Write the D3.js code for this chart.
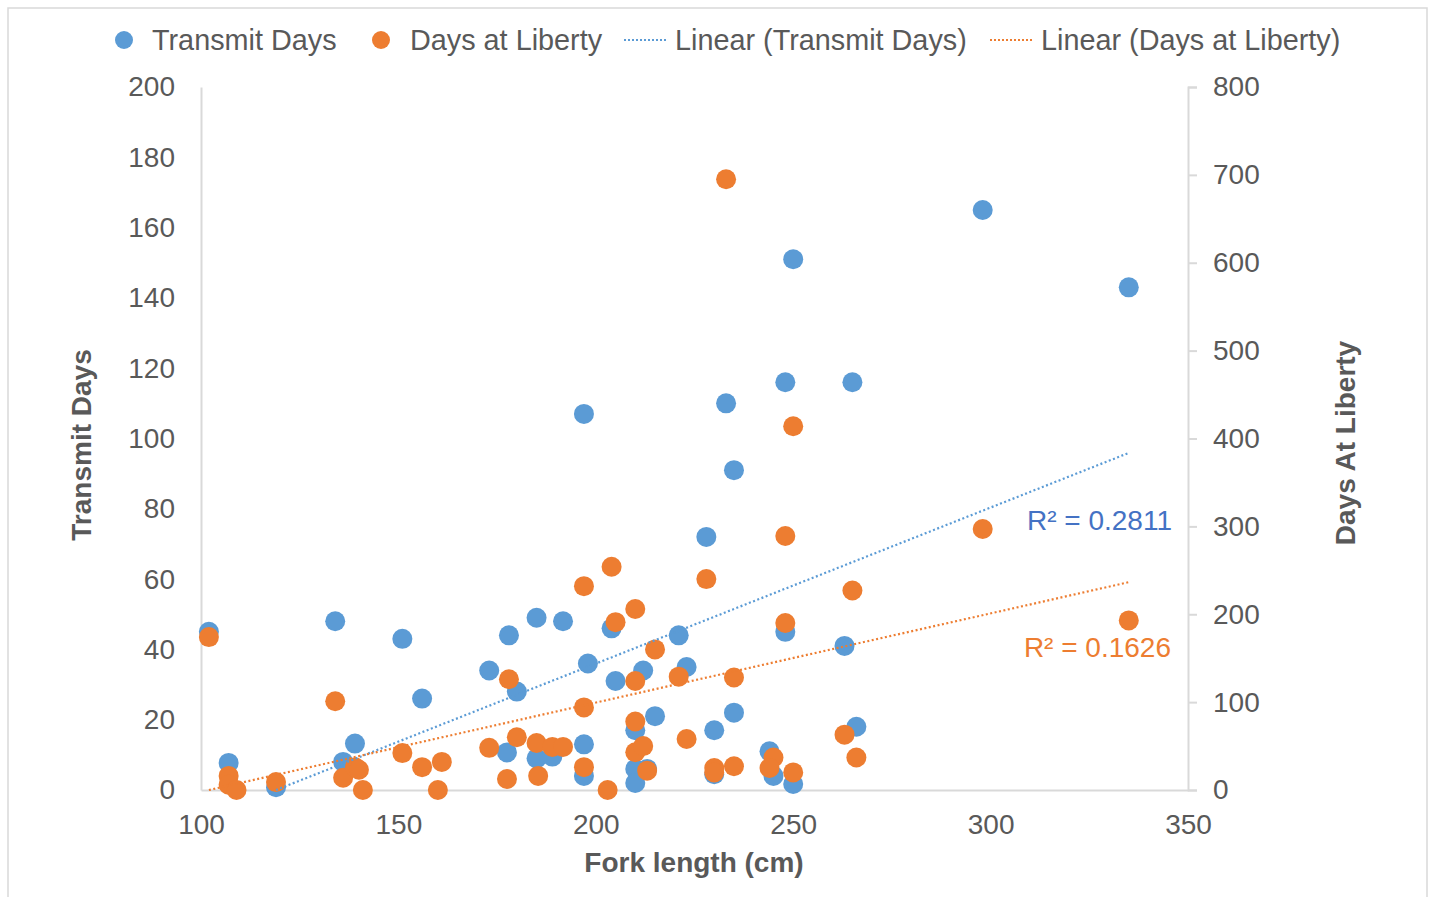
<!DOCTYPE html>
<html>
<head>
<meta charset="utf-8">
<script src="https://cdn.jsdelivr.net/npm/d3@7"></script>
<style>
html,body{margin:0;padding:0;background:#fff;}
svg{display:block;font-family:"Liberation Sans",Arial,sans-serif;}
</style>
</head>
<body>
<svg id="chart" width="1429" height="897"></svg>
<script>
// ---- data ----
const transmitFL   = [102,107,119,134,136,139,151,156,173,178,180,177.5,185,191.7,185,189,197,197,197,198,204,205,210,210,210,212,213,215,221,223,228,230,230,233,235,235,244,245,248,248,250,250,263,265,266,298,335];
const transmitDays = [45,7.7,0.8,48,8,13.2,43,26,34,44,28,10.7,49,48,9,9.5,13,4,107,36,46,31,17,6,2,34,6,21,44,35,72,17,4.5,110,22,91,11,4,45,116,151,1.7,41,116,18,165,143];
const libertyFL    = [102,107,107,109,119,134,136,139,140,141,151,156,160,161,173,178,177.5,180,185,185.4,189,191.7,197,197,197,203,204,205,210,210,210,210,212,213,215,221,223,228,230,230,233,235,235,245,244,248,248,250,250,263,265,266,298,335];
const libertyDays  = [174,16,6,0,9,101,14,26,23,0,42,26,0,32,48,126,12.5,60,53.5,16,49,49,232,94,26,0,254,191,206,124,78,43,50,22,160,129,58,240,25,20,695,128,27,37,25,289,190,414,20,63,227,37,297,193];
const trendTransmitX = [119,335], trendTransmitY = [0,95.9];
const trendLibertyX  = [102,335], trendLibertyY  = [0,236.5];
const xTicks = [100,150,200,250,300,350];
const leftTicks = [0,20,40,60,80,100,120,140,160,180,200];
const rightTicks = [0,100,200,300,400,500,600,700,800];
const r2Labels = ["R² = 0.2811","R² = 0.1626"];
const legendLabels = ["Transmit Days","Days at Liberty","Linear (Transmit Days)","Linear (Days at Liberty)"];

// ---- layout ----
const svg = d3.select("#chart");
const L=201, R=1188, T=87, B=790;
const blue="#5B9BD5", orange="#ED7D31", grey="#595959", axisC="#D9D9D9";
const x = d3.scaleLinear().domain([100,350]).range([L,R]);
const yL = d3.scaleLinear().domain([0,200]).range([B,T]);
const yR = d3.scaleLinear().domain([0,800]).range([B,T]);

// frame
svg.append("rect").attr("x",8).attr("y",8).attr("width",1419).attr("height",900)
  .attr("fill","none").attr("stroke","#D9D9D9").attr("stroke-width",1.5);

// axes
const gx = svg.append("g").attr("transform",`translate(0,${B})`)
  .call(d3.axisBottom(x).tickValues(xTicks).tickSize(0).tickPadding(24));
const gl = svg.append("g").attr("transform",`translate(${L},0)`)
  .call(d3.axisLeft(yL).tickValues(leftTicks).tickSize(0).tickPadding(26));
const gr = svg.append("g").attr("transform",`translate(${R},0)`)
  .call(d3.axisRight(yR).tickValues(rightTicks).tickSize(9).tickPadding(16));
[gx,gl,gr].forEach(g=>{
  g.select(".domain").attr("stroke",axisC).attr("stroke-width",2);
  g.selectAll(".tick line").attr("stroke",axisC).attr("stroke-width",2);
  g.selectAll(".tick text").attr("fill",grey).style("font-size","28px").style("font-family","'Liberation Sans',Arial,sans-serif");
});

// points
svg.append("g").selectAll("circle").data(transmitFL).join("circle")
  .attr("cx",(d)=>x(d)).attr("cy",(d,i)=>yL(transmitDays[i])).attr("r",10).attr("fill",blue);
svg.append("g").selectAll("circle").data(libertyFL).join("circle")
  .attr("cx",(d)=>x(d)).attr("cy",(d,i)=>yR(libertyDays[i])).attr("r",10).attr("fill",orange);

// trendlines
const line = (xs,ys,ys_scale)=>d3.line()(xs.map((v,i)=>[x(v),ys_scale(ys[i])]));
svg.append("path").attr("d",line(trendTransmitX,trendTransmitY,yL))
  .attr("stroke",blue).attr("stroke-width",2.2).attr("stroke-dasharray","2,2.5").attr("fill","none");
svg.append("path").attr("d",line(trendLibertyX,trendLibertyY,yR))
  .attr("stroke",orange).attr("stroke-width",2.2).attr("stroke-dasharray","2,2.5").attr("fill","none");

// R² labels
svg.append("text").attr("x",1172).attr("y",530).attr("text-anchor","end")
  .attr("fill","#4472C4").style("font-size","28px").text(r2Labels[0]);
svg.append("text").attr("x",1171).attr("y",657).attr("text-anchor","end")
  .attr("fill",orange).style("font-size","28px").text(r2Labels[1]);

// axis titles
svg.append("text").attr("transform","translate(91,445) rotate(-90)").attr("text-anchor","middle")
  .attr("fill",grey).style("font-size","28px").style("font-weight","bold").text("Transmit Days");
svg.append("text").attr("transform","translate(1355,443) rotate(-90)").attr("text-anchor","middle")
  .attr("fill",grey).style("font-size","28px").style("font-weight","bold").text("Days At Liberty");
svg.append("text").attr("x",694).attr("y",872).attr("text-anchor","middle")
  .attr("fill",grey).style("font-size","28px").style("font-weight","bold").text("Fork length (cm)");

// legend
const lg = svg.append("g");
const items = [
  {type:"dot",c:blue,sx:124,tx:152},
  {type:"dot",c:orange,sx:381,tx:410},
  {type:"line",c:blue,sx:624,tx:675},
  {type:"line",c:orange,sx:990,tx:1041}
];
items.forEach((it,i)=>{
  if(it.type==="dot"){
    lg.append("circle").attr("cx",it.sx).attr("cy",40).attr("r",9).attr("fill",it.c);
  } else {
    lg.append("line").attr("x1",it.sx).attr("x2",it.sx+43).attr("y1",40).attr("y2",40)
      .attr("stroke",it.c).attr("stroke-width",2).attr("stroke-dasharray","2,2");
  }
  lg.append("text").attr("x",it.tx).attr("y",50).attr("fill",grey).style("font-size","28.8px").text(legendLabels[i]);
});
</script>
</body>
</html>
